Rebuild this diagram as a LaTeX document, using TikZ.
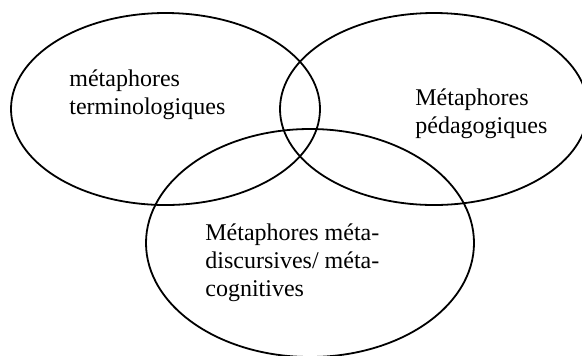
\documentclass[tikz,border=0pt]{standalone}
\usepackage{fontspec}
\setmainfont{Liberation Serif}
\begin{document}
\begin{tikzpicture}[x=0.5pt,y=-0.5pt,
        vennline/.style={line width=0.9pt},
        vennlabel/.style={align=left,anchor=north west,inner sep=0pt,
            font=\fontsize{12pt}{14pt}\selectfont}]
    \useasboundingbox (0,0) rectangle (582,355);
    \clip (0,0) rectangle (582,355);

    % centres of the three sets
    \coordinate (terminoC) at (165.5,109);
    \coordinate (pedagoC)  at (434,109);
    \coordinate (metaC)    at (310,243);

    \draw[vennline] (terminoC) ellipse [x radius=154.5, y radius=96];
    \draw[vennline] (pedagoC)  ellipse [x radius=154,   y radius=96];
    \draw[vennline] (metaC)    ellipse [x radius=164,   y radius=114];

    \node[vennlabel] (termino) at (69,69)
        {métaphores\\terminologiques};
    \node[vennlabel] (pedago) at (415,88)
        {Métaphores\\pédagogiques};
    \node[vennlabel] (meta) at (205,223)
        {Métaphores méta-\\discursives/ méta-\\cognitives};
\end{tikzpicture}
\end{document}
